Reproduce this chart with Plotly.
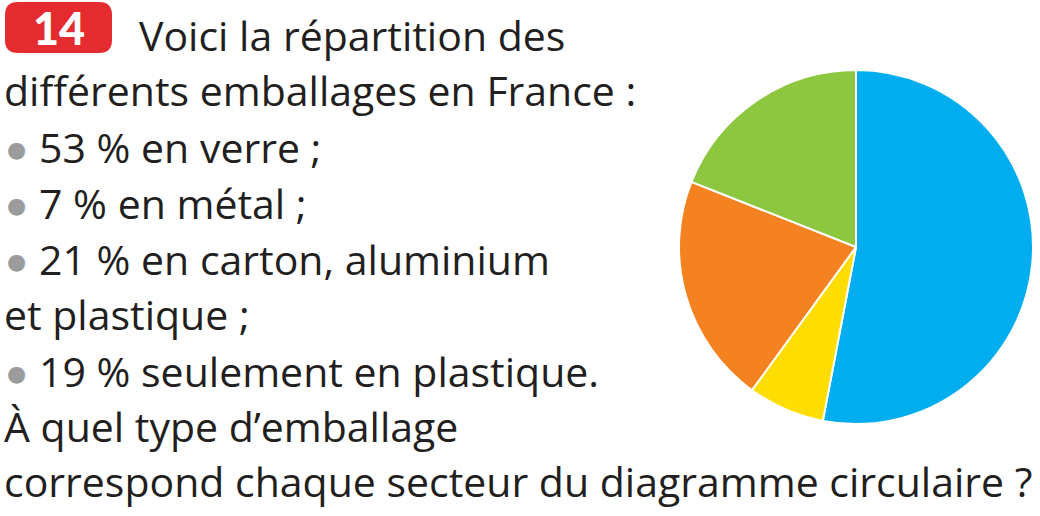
import plotly.graph_objects as go

W, H = 1040, 516

# Data
labels = ["verre", "métal", "carton, aluminium et plastique", "plastique"]
values = [53, 7, 21, 19]
colors = ["#00AEEF", "#FFDD00", "#F58220", "#8DC63F"]

badge_text = "14"
text_lines = [
    "Voici la répartition des",
    "différents emballages en France :",
    "• 53 % en verre ;",
    "• 7 % en métal ;",
    "• 21 % en carton, aluminium",
    "et plastique ;",
    "• 19 % seulement en plastique.",
    "À quel type d’emballage",
    "correspond chaque secteur du diagramme circulaire ?",
]
line_x = [138, 3, 38, 38, 38, 3, 38, 3, 3]
baselines = [51, 106, 163, 219, 275, 330, 387, 442, 497]

FONT = "Open Sans"
FS = 41
TXT = "#231F20"

def px(x):
    return x / W

def py(y):
    return 1 - y / H

# Pie geometry
cx, cy, r = 856, 247, 177

fig = go.Figure(go.Pie(
    labels=labels, values=values, sort=False, direction="clockwise", rotation=0,
    marker=dict(colors=colors, line=dict(color="white", width=2)),
    textinfo="none", hoverinfo="label+percent", showlegend=False,
    domain=dict(x=[px(cx - r), px(cx + r)], y=[py(cy + r), py(cy - r)]),
))

annotations = []
for txt, x, b in zip(text_lines, line_x, baselines):
    if txt.startswith("• "):
        txt = txt[2:]
        annotations.append(dict(
            text="●", x=px(16), y=py(b - 14), xref="paper", yref="paper",
            xanchor="center", yanchor="middle", showarrow=False,
            font=dict(family="DejaVu Sans", size=22, color="#9B9B9B"),
        ))
    annotations.append(dict(
        text=txt, x=px(x), y=py(b - 16), xref="paper", yref="paper",
        xanchor="left", yanchor="middle", showarrow=False, align="left",
        font=dict(family=FONT, size=FS, color=TXT), borderpad=0,
    ))

# badge
bx0, bx1, by0, by1, rr = 5, 112, 2, 53, 13
def P(x, y):
    return f"{px(x):.5f},{py(y):.5f}"
path = (f"M {P(bx0+rr, by0)} L {P(bx1-rr, by0)} Q {P(bx1, by0)} {P(bx1, by0+rr)} "
        f"L {P(bx1, by1-rr)} Q {P(bx1, by1)} {P(bx1-rr, by1)} "
        f"L {P(bx0+rr, by1)} Q {P(bx0, by1)} {P(bx0, by1-rr)} "
        f"L {P(bx0, by0+rr)} Q {P(bx0, by0)} {P(bx0+rr, by0)} Z")
shapes = [dict(type="path", path=path, xref="paper", yref="paper",
               fillcolor="#E42B2F", line=dict(width=0), layer="below")]
annotations.append(dict(
    text=badge_text, x=px((bx0 + bx1) / 2), y=py((by0 + by1) / 2 + 1),
    xref="paper", yref="paper", xanchor="center", yanchor="middle", showarrow=False,
    font=dict(family="Lato", size=45, color="white", weight=900),
))

fig.update_layout(
    width=W, height=H, margin=dict(l=0, r=0, t=0, b=0),
    paper_bgcolor="white", plot_bgcolor="white",
    annotations=annotations, shapes=shapes,
)
fig.write_html("out.html")
